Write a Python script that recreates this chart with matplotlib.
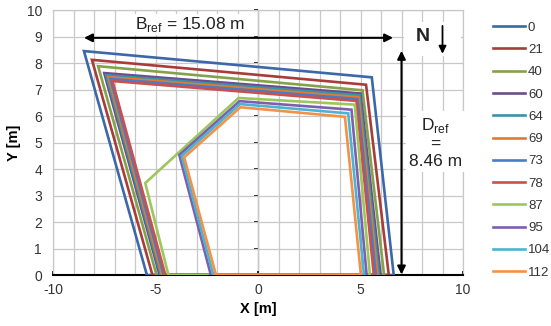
import numpy as np
import matplotlib
matplotlib.use("Agg")
import matplotlib.pyplot as plt
from matplotlib.patches import Rectangle

plt.rcParams["font.family"] = ["Liberation Sans", "DejaVu Sans"]
plt.rcParams["mathtext.fontset"] = "custom"
plt.rcParams["mathtext.rm"] = "Liberation Sans"
plt.rcParams["axes.unicode_minus"] = False

# ================================
# DATA (outline vertices)
# ================================
labels = ["0", "21", "40", "60", "64", "69", "73", "78", "87", "95", "104", "112"]
colors = ["#3A68A8", "#A83C3A", "#84A24A", "#6A4E90", "#3A92A8", "#E07B30",
          "#4A7CC4", "#C9504E", "#9BC75B", "#7E5FAE", "#4BB4D3", "#F39247"]

x_0 = [-5.42, -8.49, 5.55, 6.62]
y_0 = [0, 8.45, 7.46, 0]
x_21 = [-5.15, -8.10, 5.27, 6.38]
y_21 = [0, 8.12, 7.18, 0]
x_40 = [-4.95, -7.80, 5.10, 6.15]
y_40 = [0, 7.88, 6.97, 0]
x_60 = [-4.80, -7.50, 5.00, 5.98]
y_60 = [0, 7.62, 6.85, 0]
x_64 = [-4.74, -7.40, 4.95, 5.90]
y_64 = [0, 7.54, 6.78, 0]
x_69 = [-4.68, -7.30, 4.90, 5.83]
y_69 = [0, 7.47, 6.71, 0]
x_73 = [-4.60, -7.20, 4.85, 5.75]
y_73 = [0, 7.40, 6.64, 0]
x_78 = [-4.52, -7.10, 4.80, 5.65]
y_78 = [0, 7.32, 6.57, 0]
x_87 = [-4.37, -5.50, -0.95, 4.72, 5.46]
y_87 = [0, 3.47, 6.68, 6.43, 0]
x_95 = [-2.30, -3.84, -0.90, 4.56, 5.30]
y_95 = [0, 4.53, 6.56, 6.24, 0]
x_104 = [-2.18, -3.72, -0.88, 4.40, 5.17]
y_104 = [0, 4.49, 6.45, 6.10, 0]
x_112 = [-2.05, -3.60, -0.86, 4.24, 5.02]
y_112 = [0, 4.44, 6.33, 5.97, 0]

xs = [x_0, x_21, x_40, x_60, x_64, x_69, x_73, x_78, x_87, x_95, x_104, x_112]
ys = [y_0, y_21, y_40, y_60, y_64, y_69, y_73, y_78, y_87, y_95, y_104, y_112]

B_ref = 15.08
D_ref = 8.46

# ================================
# FIGURE
# ================================
fig = plt.figure(figsize=(5.51, 3.26), dpi=100)
ax = fig.add_axes([0.0962, 0.1564, 0.7441, 0.8129])

grid_c = "#C8C8C8"
for xx, yy, c, lab in zip(xs, ys, colors, labels):
    ax.plot(xx + [xx[0]], yy + [yy[0]], color=c, lw=1.9, label=lab, zorder=3,
            solid_joinstyle="miter")

ax.set_xlim(-10, 10)
ax.set_ylim(0, 10)
ax.set_xticks([-10, -5, 0, 5, 10])
ax.set_xticks(np.arange(-10, 11, 1), minor=True)
ax.set_yticks(np.arange(0, 11, 1))
ax.grid(True, which="both", color=grid_c, lw=0.9, zorder=0)
ax.set_axisbelow(True)
ax.tick_params(axis="x", which="major", direction="in", length=3, width=1.2,
               colors="black", labelsize=10, pad=6)
ax.tick_params(axis="x", which="minor", length=0)
ax.tick_params(axis="y", length=0, labelsize=10, pad=8)
for lbl in ax.get_xticklabels() + ax.get_yticklabels():
    lbl.set_color("#333333")
for s in ["top", "right", "left"]:
    ax.spines[s].set_color(grid_c)
    ax.spines[s].set_linewidth(0.9)
ax.spines["bottom"].set_color("black")
ax.spines["bottom"].set_linewidth(1.5)

# vertical axis through x = 0
sec = ax.secondary_yaxis(0.5)
sec.set_yticks(np.arange(0, 11, 1))
sec.set_yticklabels([])
sec.tick_params(axis="y", direction="in", length=3, width=1.2,
                labelleft=False, labelright=False)
sec.spines["left"].set_linewidth(1.5)
sec.spines["left"].set_color("black")

ax.set_xlabel("X [m]", fontsize=10.5, fontweight="bold", labelpad=3)
ax.set_ylabel("Y [m]", fontsize=10.5, fontweight="bold", labelpad=4)

# B_ref arrow
ax.annotate("", xy=(x_0[1], 8.95), xytext=(x_0[1] + B_ref, 8.95),
            arrowprops=dict(arrowstyle="<|-|>", color="black", lw=1.5,
                            mutation_scale=12, shrinkA=0, shrinkB=0), zorder=5)
ax.text(-3.3, 9.45, r"B$_{\mathrm{ref}}$ = %.2f m" % B_ref, fontsize=12.5,
        ha="center", va="center", color="#222222", zorder=6,
        bbox=dict(fc="white", ec="none", pad=1))

# D_ref arrow
ax.annotate("", xy=(7.0, 0.02), xytext=(7.0, D_ref),
            arrowprops=dict(arrowstyle="<|-|>", color="black", lw=1.5,
                            mutation_scale=12, shrinkA=0, shrinkB=0), zorder=5)
ax.text(8.65, 5.0, "D$_{\\mathrm{ref}}$\n=\n%.2f m" % D_ref, fontsize=12.5,
        ha="center", va="center", color="#222222", linespacing=1.15, zorder=6,
        bbox=dict(fc="white", ec="none", pad=2))

# North marker
ax.add_patch(Rectangle((7.1, 8.25), 2.8, 1.3, fc="white", ec="none", zorder=4))
ax.text(8.05, 9.0, "N", fontsize=14, fontweight="bold", ha="center",
        va="center", color="#222222", zorder=6)
ax.annotate("", xy=(9.0, 8.35), xytext=(9.0, 9.4),
            arrowprops=dict(arrowstyle="-|>", color="black", lw=1.3,
                            mutation_scale=11, shrinkA=0, shrinkB=0), zorder=6)

leg = fig.legend(loc="upper left", bbox_to_anchor=(0.885, 0.95), frameon=False,
                 fontsize=9.5, handlelength=2.4, handletextpad=0.25,
                 labelspacing=0.76, borderaxespad=0)
for t in leg.get_texts():
    t.set_color("#333333")

fig.savefig("out.png", dpi=100)
